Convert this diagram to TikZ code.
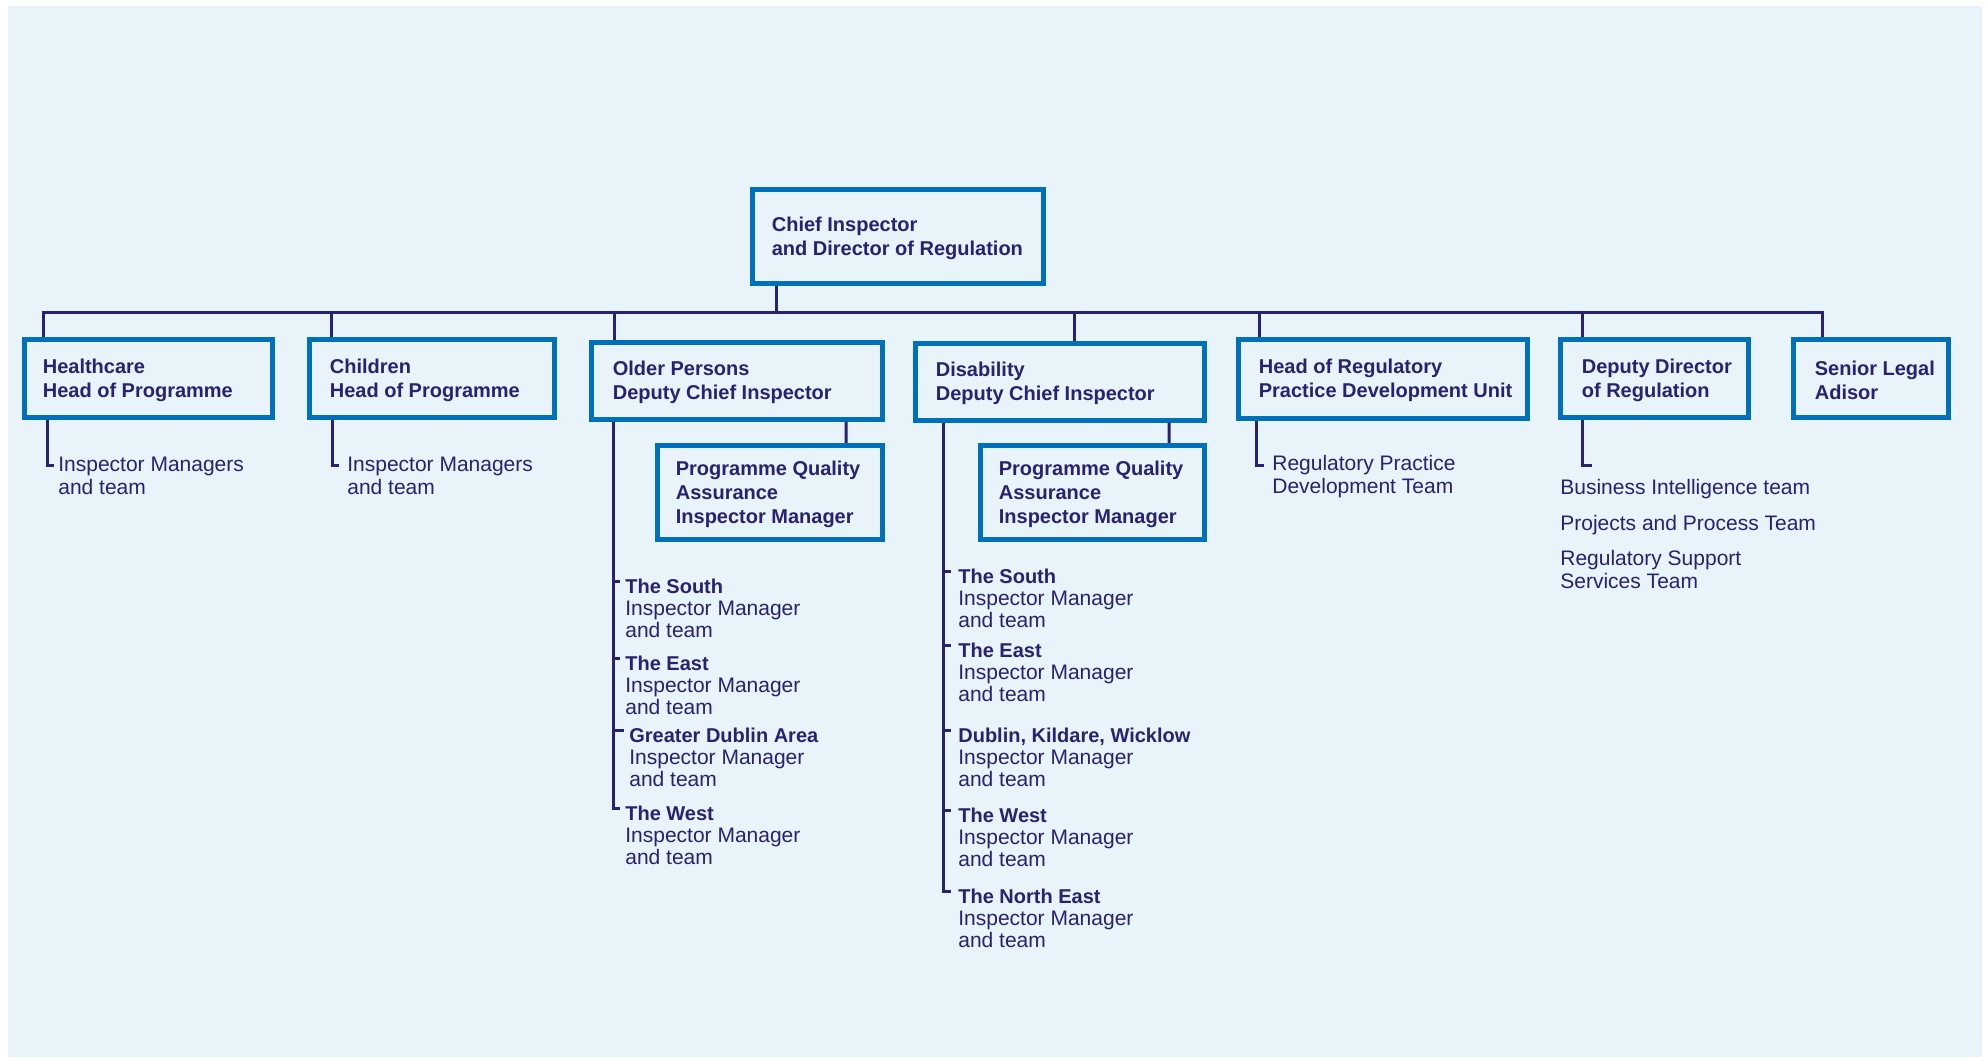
\documentclass[tikz,border=0pt]{standalone}
\usepackage{fontspec}
\setmainfont{Liberation Sans}
\usetikzlibrary{positioning}
\definecolor{bgBlue}{RGB}{233,243,250}
\definecolor{boxBlue}{RGB}{0,112,187}
\definecolor{navy}{RGB}{40,34,112}
\newcommand{\areaName}[1]{{\fontsize{11.38}{12.52}\selectfont\bfseries #1}}

\begin{document}
\begin{tikzpicture}[
	orgBox/.style={rectangle, draw=boxBlue, fill=bgBlue, line width=0.1cm},
	boxText/.style={inner sep=0pt, align=left, yshift=-0.03cm, text=navy, font=\bfseries\fontsize{11.38}{13.66}\selectfont},
	teamText/.style={inner sep=0pt, align=left, anchor=north west, text=navy, font=\fontsize{11.95}{13.09}\selectfont},
	areaText/.style={teamText, font=\fontsize{11.95}{12.52}\selectfont},
	link/.style={draw=navy, line width=0.06cm}
]

		\useasboundingbox (0,0) rectangle (39.76,21.16);
		\fill[bgBlue] (0.16,0.02) rectangle (39.64,21.04);

		\node[orgBox, minimum width=5.82cm, minimum height=1.88cm](chiefBox) at (17.96,16.43){};
		\node[boxText, right=0.43cm of chiefBox.west](chiefText){Chief Inspector\\and Director of Regulation};

		\node[orgBox, minimum width=4.96cm, minimum height=1.56cm](healthBox) at (2.97,13.59){};
		\node[orgBox, minimum width=4.90cm, minimum height=1.56cm](childBox) at (8.64,13.59){};
		\node[orgBox, minimum width=5.82cm, minimum height=1.54cm](olderBox) at (14.74,13.54){};
		\node[orgBox, minimum width=5.78cm, minimum height=1.54cm](disabBox) at (21.20,13.52){};
		\node[orgBox, minimum width=5.78cm, minimum height=1.58cm](regBox) at (27.66,13.58){};
		\node[orgBox, minimum width=3.76cm, minimum height=1.56cm](deputyBox) at (33.09,13.59){};
		\node[orgBox, minimum width=3.10cm, minimum height=1.56cm](legalBox) at (37.42,13.59){};

		\node[boxText, right=0.41cm of healthBox.west](healthText){Healthcare\\Head of Programme};
		\node[boxText, right=0.45cm of childBox.west](childText){Children\\Head of Programme};
		\node[boxText, right=0.47cm of olderBox.west](olderText){Older Persons\\Deputy Chief Inspector};
		\node[boxText, right=0.45cm of disabBox.west](disabText){Disability\\Deputy Chief Inspector};
		\node[boxText, right=0.45cm of regBox.west](regText){Head of Regulatory\\Practice Development Unit};
		\node[boxText, right=0.47cm of deputyBox.west](deputyText){Deputy Director\\of Regulation};
		\node[boxText, right=0.47cm of legalBox.west](legalText){Senior Legal\\Adisor};

		\node[orgBox, minimum width=4.50cm, minimum height=1.88cm](olderPqaBox) at (15.40,11.31){};
		\node[orgBox, minimum width=4.48cm, minimum height=1.88cm](disabPqaBox) at (21.85,11.31){};
		\node[boxText, right=0.41cm of olderPqaBox.west](olderPqaText){Programme Quality\\Assurance\\Inspector Manager};
		\node[boxText, right=0.41cm of disabPqaBox.west](disabPqaText){Programme Quality\\Assurance\\Inspector Manager};

		\node[teamText](healthTeam) at (1.16,12.02){Inspector Managers\\and team};
		\node[teamText](childTeam) at (6.94,12.02){Inspector Managers\\and team};
		\node[teamText](regTeam) at (25.44,12.06){Regulatory Practice\\Development Team};
		\node[teamText](deputyBiz) at (31.20,11.58){Business Intelligence team};
		\node[teamText](deputyProj) at (31.20,10.86){Projects and Process Team};
		\node[teamText](deputySupport) at (31.20,10.16){Regulatory Support\\Services Team};

		\node[areaText](olderSouth) at (12.50,9.59){\areaName{The South}\\Inspector Manager\\and team};
		\node[areaText](olderEast) at (12.50,8.05){\areaName{The East}\\Inspector Manager\\and team};
		\node[areaText](olderDublin) at (12.58,6.61){\areaName{Greater Dublin Area}\\Inspector Manager\\and team};
		\node[areaText](olderWest) at (12.50,5.05){\areaName{The West}\\Inspector Manager\\and team};

		\node[areaText](disabSouth) at (19.16,9.79){\areaName{The South}\\Inspector Manager\\and team};
		\node[areaText](disabEast) at (19.16,8.31){\areaName{The East}\\Inspector Manager\\and team};
		\node[areaText](disabDublin) at (19.16,6.61){\areaName{Dublin, Kildare, Wicklow}\\Inspector Manager\\and team};
		\node[areaText](disabWest) at (19.16,5.01){\areaName{The West}\\Inspector Manager\\and team};
		\node[areaText](disabNorthEast) at (19.16,3.39){\areaName{The North East}\\Inspector Manager\\and team};

		\coordinate (busChief) at (15.52,14.90);
		\coordinate (busHealth) at (0.86,14.90);
		\coordinate (busChild) at (6.62,14.90);
		\coordinate (busOlder) at (12.28,14.90);
		\coordinate (busDisab) at (21.48,14.90);
		\coordinate (busReg) at (25.18,14.90);
		\coordinate (busDeputy) at (31.64,14.90);
		\coordinate (busLegal) at (36.44,14.90);
		\coordinate (deputyTick) at (31.84,11.84);

		\draw[link] (busChief) -- (busChief |- chiefBox.south);
		\draw[link] (busHealth |- healthBox.north) -- (busHealth) -- (busLegal) -- (busLegal |- legalBox.north);
		\draw[link] (busChild) -- (busChild |- childBox.north);
		\draw[link] (busOlder) -- (busOlder |- olderBox.north);
		\draw[link] (busDisab) -- (busDisab |- disabBox.north);
		\draw[link] (busReg) -- (busReg |- regBox.north);
		\draw[link] (busDeputy) -- (busDeputy |- deputyBox.north);

		\draw[link] ([xshift=0.5cm]healthBox.south west) |- ([xshift=-0.08cm,yshift=-0.18cm]healthTeam.north west);
		\draw[link] ([xshift=0.5cm]childBox.south west) |- ([xshift=-0.16cm,yshift=-0.18cm]childTeam.north west);
		\draw[link] ([xshift=0.4cm]regBox.south west) |- ([xshift=-0.16cm,yshift=-0.22cm]regTeam.north west);
		\draw[link] ([xshift=0.48cm]deputyBox.south west) |- (deputyTick);

		\draw[link] ([xshift=-0.78cm]olderBox.south east) -- ([xshift=-0.78cm]olderPqaBox.north east);
		\draw[link] ([xshift=-0.76cm]disabBox.south east) -- ([xshift=-0.76cm]disabPqaBox.north east);

		\draw[link] ([xshift=0.49cm]olderBox.south west) |- ([xshift=-0.1cm,yshift=-0.06cm]olderWest.north west);
		\draw[link] ([xshift=0.49cm]olderBox.south west) |- ([xshift=-0.1cm,yshift=-0.06cm]olderDublin.north west);
		\draw[link] ([xshift=0.49cm]olderBox.south west) |- ([xshift=-0.1cm,yshift=-0.06cm]olderEast.north west);
		\draw[link] ([xshift=0.49cm]olderBox.south west) |- ([xshift=-0.1cm,yshift=-0.06cm]olderSouth.north west);

		\draw[link] ([xshift=0.61cm]disabBox.south west) |- ([xshift=-0.14cm,yshift=-0.06cm]disabNorthEast.north west);
		\draw[link] ([xshift=0.61cm]disabBox.south west) |- ([xshift=-0.14cm,yshift=-0.06cm]disabWest.north west);
		\draw[link] ([xshift=0.61cm]disabBox.south west) |- ([xshift=-0.14cm,yshift=-0.06cm]disabDublin.north west);
		\draw[link] ([xshift=0.61cm]disabBox.south west) |- ([xshift=-0.14cm,yshift=-0.06cm]disabEast.north west);
		\draw[link] ([xshift=0.61cm]disabBox.south west) |- ([xshift=-0.14cm,yshift=-0.06cm]disabSouth.north west);
	\end{tikzpicture}
\end{document}
